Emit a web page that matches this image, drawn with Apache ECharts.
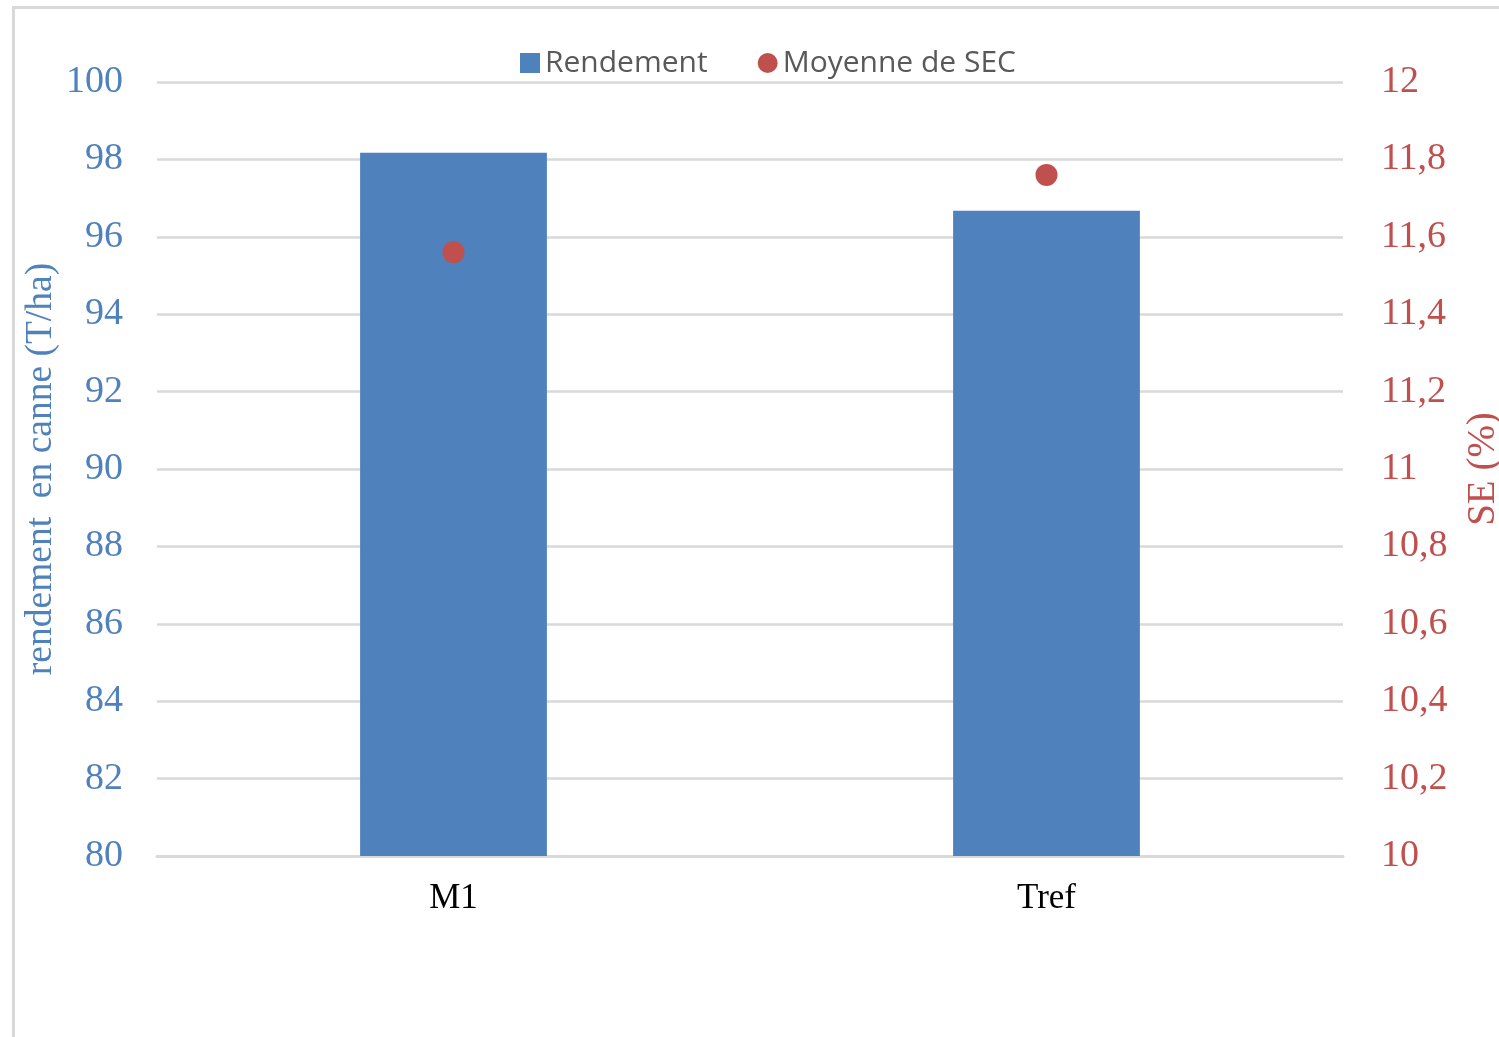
<!DOCTYPE html>
<html>
<head>
<meta charset="utf-8">
<script src="https://cdn.jsdelivr.net/npm/echarts@6/dist/echarts.min.js"></script>
<style>
  html, body { margin: 0; padding: 0; background: #fff; overflow: hidden; width: 1499px; height: 1037px; }
  #frame { position: absolute; left: 12px; top: 6px; width: 1487px; height: 1031px; box-sizing: border-box;
           border-left: 3px solid #d9d9d9; border-top: 3px solid #d9d9d9; }
  #chart { position: absolute; left: 0; top: 0; width: 1499px; height: 1037px; }
</style>
</head>
<body>
<div id="frame"></div>
<div id="chart"></div>
<script>
// Yield (T/ha) and mean SEC (%) per treatment
const categories = ['M1', 'Tref'];
const rendement = [98.17, 96.67];
const moyenneSEC = [11.56, 11.76];

const BLUE = '#4F81BD';
const RED = '#C0504D';
const GRID = '#d9d9d9';

const chart = echarts.init(document.getElementById('chart'), null, { renderer: 'canvas' });

chart.setOption({
  backgroundColor: 'transparent',
  animation: false,
  grid: { left: 157, right: 156, top: 82, bottom: 181, containLabel: false, outerBoundsMode: 'none' },
  legend: {
    left: 515,
    top: 43,
    itemWidth: 20,
    itemHeight: 20,
    itemGap: 50,
    textStyle: { fontFamily: 'Open Sans', fontSize: 30, color: '#595959' },
    data: [
      { name: 'Rendement', icon: 'rect' },
      { name: 'Moyenne de SEC', icon: 'circle' }
    ]
  },
  xAxis: {
    type: 'category',
    data: categories,
    axisLine: { show: true, lineStyle: { color: GRID, width: 3 } },
    axisTick: { show: false },
    axisLabel: { fontFamily: 'Liberation Serif', fontSize: 35, color: '#000', margin: 25 }
  },
  yAxis: [
    {
      type: 'value',
      min: 80, max: 100, interval: 2,
      name: 'rendement  en canne (T/ha)',
      nameLocation: 'middle',
      nameGap: 97,
      nameMoveOverlap: false,
      nameTextStyle: { fontFamily: 'Liberation Serif', fontSize: 37.5, color: BLUE },
      axisLine: { show: false },
      axisTick: { show: false },
      splitLine: { lineStyle: { color: GRID, width: 2.5 } },
      axisLabel: { fontFamily: 'Liberation Serif', fontSize: 38, color: BLUE, margin: 34, padding: [5, 0, 0, 0] }
    },
    {
      type: 'value',
      min: 10, max: 12, interval: 0.2,
      position: 'right',
      name: 'SE (%)',
      nameLocation: 'middle',
      nameGap: 121,
      nameMoveOverlap: false,
      nameTextStyle: { fontFamily: 'Liberation Serif', fontSize: 39, color: RED },
      axisLine: { show: false },
      axisTick: { show: false },
      splitLine: { show: false },
      axisLabel: {
        fontFamily: 'Liberation Serif', fontSize: 38, color: RED, margin: 38, padding: [5, 0, 0, 0],
        formatter: v => String(Math.round(v * 10) / 10).replace('.', ',')
      }
    }
  ],
  series: [
    {
      name: 'Rendement',
      type: 'bar',
      yAxisIndex: 0,
      data: rendement,
      barWidth: '31.5%',
      itemStyle: { color: BLUE }
    },
    {
      name: 'Moyenne de SEC',
      type: 'scatter',
      yAxisIndex: 1,
      data: moyenneSEC,
      symbol: 'circle',
      symbolSize: 22,
      itemStyle: { color: RED, opacity: 1 },
      z: 5
    }
  ]
});
</script>
</body>
</html>
